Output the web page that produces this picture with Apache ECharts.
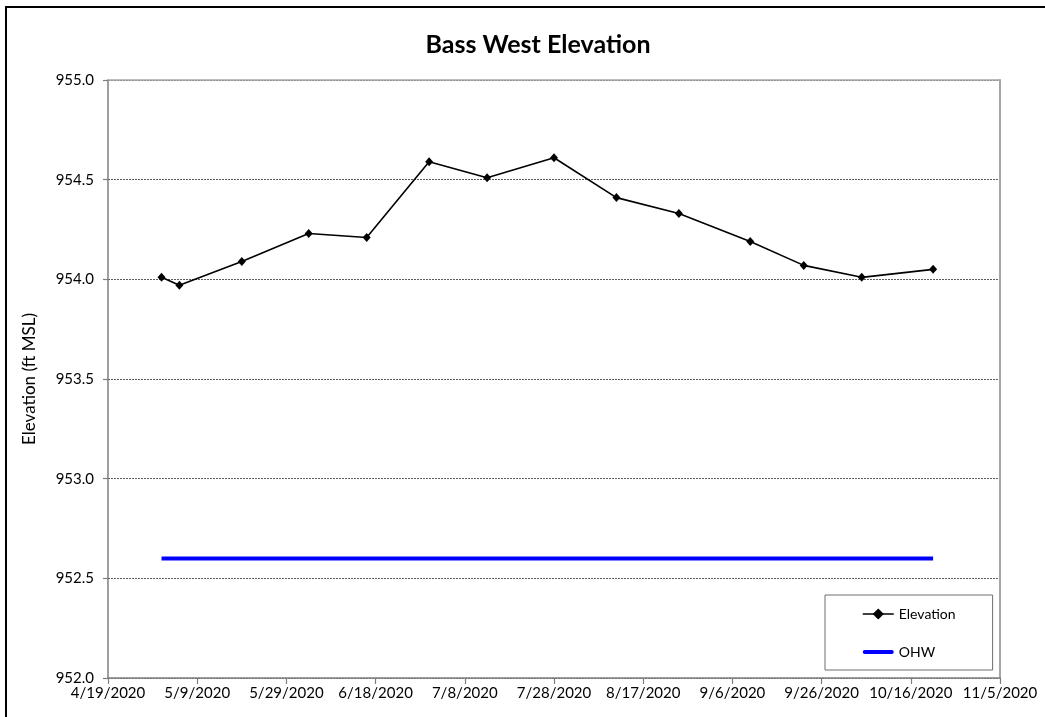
<!DOCTYPE html>
<html>
<head>
<meta charset="utf-8">
<title>Bass West Elevation</title>
<script src="https://cdn.jsdelivr.net/npm/echarts@6/dist/echarts.min.js"></script>
<style>
  html, body { margin: 0; padding: 0; background: #fff; }
  #chart { width: 1045px; height: 717px; }
</style>
</head>
<body>
<div id="chart"></div>
<script>
// Survey dates and water surface elevations (ft MSL)
const surveyDates = ['5/1/2020', '5/5/2020', '5/19/2020', '6/3/2020', '6/16/2020', '6/30/2020', '7/13/2020',
  '7/28/2020', '8/11/2020', '8/25/2020', '9/10/2020', '9/22/2020', '10/5/2020', '10/21/2020'];
const elevations = [954.01, 953.97, 954.09, 954.23, 954.21, 954.59, 954.51,
  954.61, 954.41, 954.33, 954.19, 954.07, 954.01, 954.05];

// Ordinary high water reference line
const ohwDates = ['5/1/2020', '10/21/2020'];
const ohwValues = [952.6, 952.6];

// Axis range: x axis counts days from the start date
const startDate = '4/19/2020';
const endDate = '11/5/2020';
const dayStep = 20;
const yMin = 952.0, yMax = 955.0, yStep = 0.5;

const DAY = 86400000;
function toUTC(s) {
  const p = s.split('/').map(Number);
  return Date.UTC(p[2], p[0] - 1, p[1]);
}
const origin = toUTC(startDate);
function dayOffset(s) { return Math.round((toUTC(s) - origin) / DAY); }
function dayLabel(d) {
  const t = new Date(origin + d * DAY);
  return (t.getUTCMonth() + 1) + '/' + t.getUTCDate() + '/' + t.getUTCFullYear();
}

const elevData = surveyDates.map((d, i) => [dayOffset(d), elevations[i]]);
const ohwData = ohwDates.map((d, i) => [dayOffset(d), ohwValues[i]]);

const FONT = 'Lato, "Open Sans", sans-serif';
const chart = echarts.init(document.getElementById('chart'), null, { renderer: 'canvas' });

chart.setOption({
  backgroundColor: '#ffffff',
  animation: false,
  title: {
    text: 'Bass West Elevation',
    left: 533,
    textAlign: 'center',
    top: 27,
    textStyle: { fontFamily: FONT, fontWeight: 'bold', fontSize: 25, color: '#000' }
  },
  grid: { left: 108, right: 45, top: 80, bottom: 39, show: false },
  legend: {
    orient: 'vertical',
    left: 825,
    top: 595,
    padding: [12, 37, 11, 37],
    itemWidth: 31,
    itemHeight: 14,
    itemGap: 24,
    itemTextGap: 3,
    borderColor: '#6e6e6e',
    borderWidth: 1,
    backgroundColor: '#ffffff',
    symbolKeepAspect: true,
    textStyle: { fontFamily: FONT, fontSize: 14, color: '#000' },
    data: [
      { name: 'Elevation', lineStyle: { width: 1.5 } },
      { name: 'OHW', icon: 'path://M2,0 H29 A2,2 0 0 1 29,4 H2 A2,2 0 0 1 2,0 Z', itemStyle: { color: '#0000ff' } }
    ]
  },
  xAxis: [{
    type: 'value',
    min: 0,
    max: dayOffset(endDate),
    interval: dayStep,
    axisLine: { show: true, onZero: false, lineStyle: { color: '#7f7f7f', width: 1.5 } },
    axisTick: { show: true, length: 6, lineStyle: { color: '#7f7f7f', width: 1.2 } },
    axisLabel: {
      margin: 8,
      fontFamily: FONT, fontSize: 15, color: '#000',
      formatter: v => dayLabel(v)
    },
    splitLine: { show: false }
  }, {
    type: 'value',
    position: 'top',
    min: 0,
    max: dayOffset(endDate),
    interval: dayStep,
    axisLine: { show: true, onZero: false, lineStyle: { color: '#a6a6a6', width: 1.5 } },
    axisTick: { show: false },
    axisLabel: { show: false },
    splitLine: { show: false }
  }],
  yAxis: [{
    type: 'value',
    min: yMin,
    max: yMax,
    interval: yStep,
    name: 'Elevation (ft MSL)',
    nameLocation: 'middle',
    nameGap: 70,
    nameTextStyle: { fontFamily: FONT, fontSize: 17, color: '#000' },
    axisLine: { show: true, onZero: false, lineStyle: { color: '#7f7f7f', width: 1.5 } },
    axisTick: { show: true, length: 5, lineStyle: { color: '#7f7f7f', width: 1.2 } },
    axisLabel: {
      margin: 14,
      fontFamily: FONT, fontSize: 15, color: '#000',
      formatter: v => v.toFixed(1)
    },
    splitLine: { show: true, lineStyle: { color: '#5a5a5a', width: 1, type: [2, 1] } }
  }, {
    type: 'value',
    position: 'right',
    min: yMin,
    max: yMax,
    interval: yStep,
    axisLine: { show: true, onZero: false, lineStyle: { color: '#a6a6a6', width: 2 } },
    axisTick: { show: false },
    axisLabel: { show: false },
    splitLine: { show: false }
  }],
  series: [{
    name: 'Elevation',
    type: 'line',
    data: elevData,
    symbol: 'diamond',
    symbolSize: [8, 9],
    showAllSymbol: true,
    lineStyle: { color: '#000', width: 1.6 },
    itemStyle: { color: '#000' },
    z: 3
  }, {
    name: 'OHW',
    type: 'line',
    data: ohwData,
    symbol: 'none',
    lineStyle: { color: '#0000ff', width: 4 },
    itemStyle: { color: '#0000ff' },
    z: 2
  }],
  graphic: [{
    type: 'rect',
    shape: { x: 6, y: 7, width: 1100, height: 800 },
    style: { fill: 'none', stroke: '#000', lineWidth: 2 },
    silent: true,
    z: 100
  }]
});
</script>
</body>
</html>
